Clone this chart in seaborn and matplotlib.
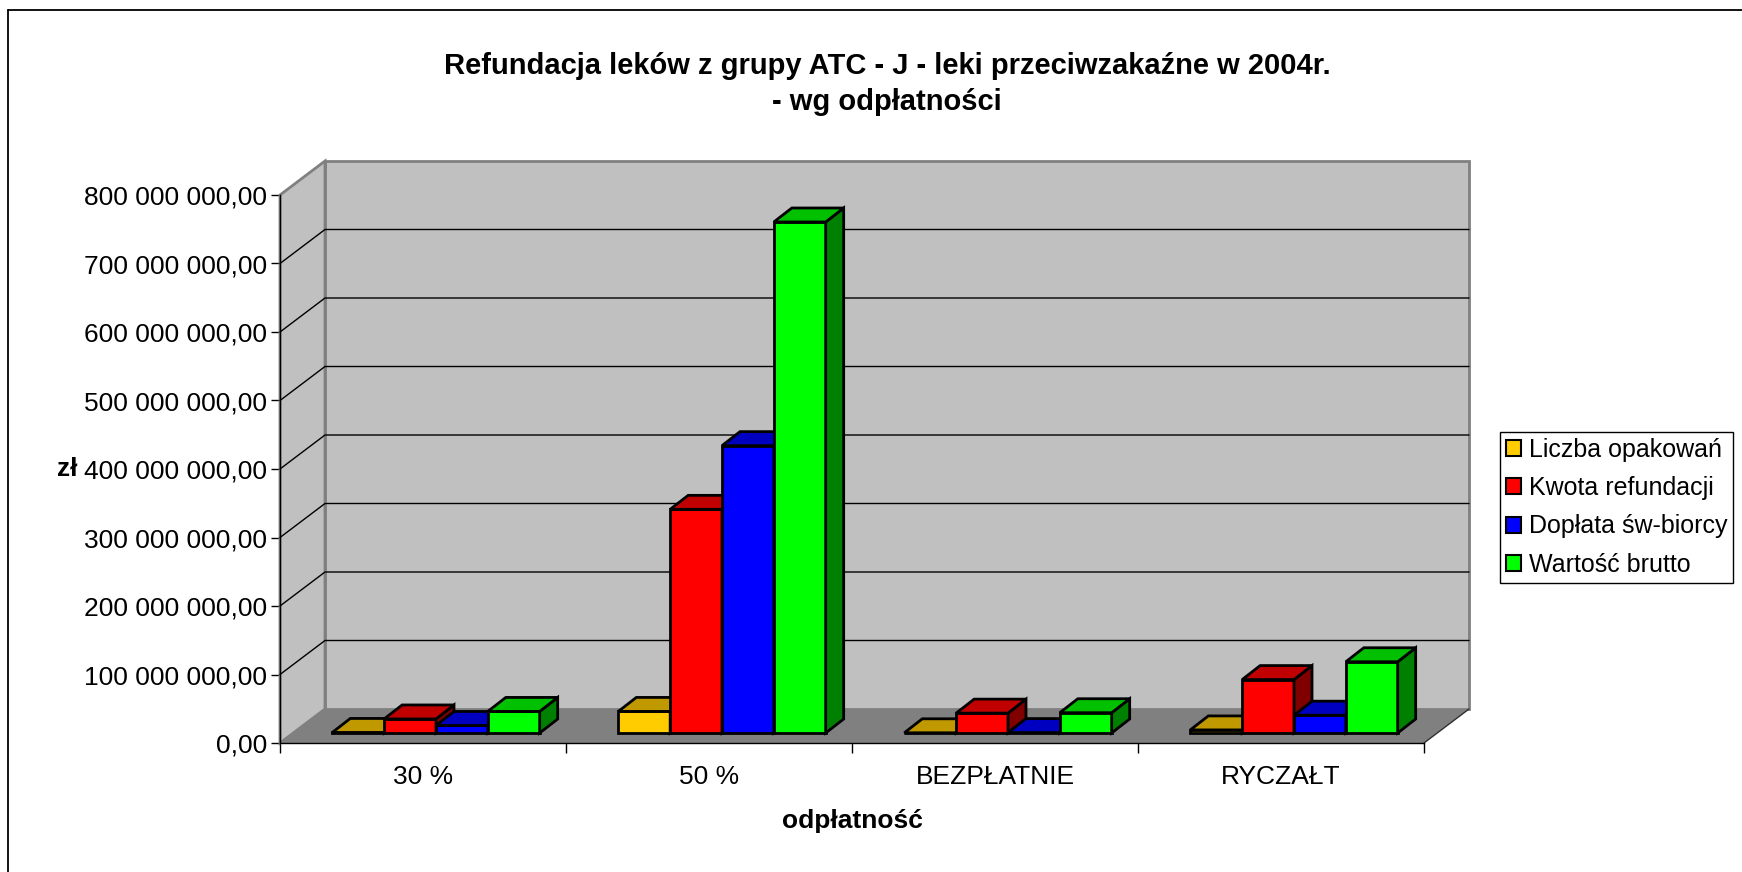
import numpy as np
import pandas as pd
import matplotlib
matplotlib.use("Agg")
import matplotlib.pyplot as plt
import seaborn as sns
from matplotlib.patches import Polygon, Patch
from matplotlib.lines import Line2D
from matplotlib.transforms import ScaledTranslation
from matplotlib.ticker import FuncFormatter

# --- data -------------------------------------------------------------
categories = ["30 %", "50 %", "BEZPŁATNIE", "RYCZAŁT"]
series = ["Liczba opakowań", "Kwota refundacji", "Dopłata św-biorcy", "Wartość brutto"]
liczba_opakowan = [0.8e6, 31.5e6, 0.3e6, 4.5e6]
kwota_refundacji = [20.5e6, 326.5e6, 29.0e6, 78.0e6]
doplata_swiadczeniobiorcy = [11.0e6, 419.5e6, 0.6e6, 26.0e6]
wartosc_brutto = [31.5e6, 746.0e6, 29.6e6, 104.0e6]
y_ticks = [0, 100e6, 200e6, 300e6, 400e6, 500e6, 600e6, 700e6, 800e6]

title = "Refundacja leków z grupy ATC - J - leki przeciwzakaźne w 2004r.\n- wg odpłatności"

front_colors = ["#FFCC00", "#FF0000", "#0000FF", "#00FF00"]
top_colors = ["#C09900", "#C00000", "#0000C0", "#00C000"]
side_colors = ["#806600", "#800000", "#000080", "#008000"]

df = pd.DataFrame({
    "odpłatność": categories * 4,
    "seria": np.repeat(series, len(categories)),
    "zł": liczba_opakowan + kwota_refundacji + doplata_swiadczeniobiorcy + wartosc_brutto,
})

# --- figure / axes ----------------------------------------------------
W, H, DPI = 1742, 872, 100
sns.set_style("white")
plt.rcParams["font.family"] = ["Liberation Sans", "DejaVu Sans"]
plt.rcParams.update({"text.color": "black", "axes.labelcolor": "black",
                     "xtick.color": "black", "ytick.color": "black"})

fig = plt.figure(figsize=(W / DPI, H / DPI), dpi=DPI)
fig.patch.set_facecolor("white")
AX_L, AX_R, AX_B, AX_T = 280, 1424, 743, 195
ax = fig.add_axes([AX_L / W, 1 - AX_B / H, (AX_R - AX_L) / W, (AX_B - AX_T) / H])
ax.set_facecolor("none")

sns.barplot(
    data=df, x="odpłatność", y="zł", hue="seria",
    order=categories, hue_order=series, palette=front_colors,
    width=0.725, gap=0, dodge=True, saturation=1, errorbar=None,
    edgecolor="black", linewidth=2, legend=False, ax=ax,
)

x0, x1 = -0.5, len(categories) - 0.5
ymax = y_ticks[-1]
ax.set_xlim(x0, x1)
ax.set_ylim(0, ymax)

# pixel -> data conversion for the oblique projection
sx = (x1 - x0) / (AX_R - AX_L)
sy = ymax / (AX_B - AX_T)
DX, DY = 45 * sx, 34 * sy          # depth of the floor / walls
BX, BY = 18 * sx, 14 * sy          # depth of each bar

# walls and floor
wall_c, floor_c, edge_c = "#C0C0C0", "#808080", "#808080"
ax.add_patch(Polygon([(x0 + DX, DY), (x1 + DX, DY), (x1 + DX, ymax + DY), (x0 + DX, ymax + DY)],
                     closed=True, fc=wall_c, ec=edge_c, lw=2, zorder=1, clip_on=False))
ax.add_patch(Polygon([(x0, 0), (x0 + DX, DY), (x0 + DX, ymax + DY), (x0, ymax)],
                     closed=True, fc=wall_c, ec=edge_c, lw=2, zorder=1, clip_on=False))
ax.add_patch(Polygon([(x0, 0), (x1, 0), (x1 + DX, DY), (x0 + DX, DY)],
                     closed=True, fc=floor_c, ec="none", zorder=1.2, clip_on=False))
ax.plot([x1, x1 + DX], [0, DY], color="#303030", lw=1, zorder=1.3, clip_on=False)

# gridlines running along side wall and back wall
for v in y_ticks[1:-1]:
    ax.plot([x0, x0 + DX, x1 + DX], [v, v + DY, v + DY], color="black", lw=1,
            zorder=1.5, clip_on=False, solid_joinstyle="miter")

# extrude the bars: front faces sit partway into the depth
shift = ax.transData + ScaledTranslation(13 / DPI, 10 / DPI, fig.dpi_scale_trans)
bars = [(rect, k) for k, cont in enumerate(ax.containers) for rect in cont]
bars.sort(key=lambda t: t[0].get_x())
for r, (rect, k) in enumerate(bars):
    x, w, h = rect.get_x(), rect.get_width(), rect.get_height()
    z = 10 + r
    rect.set_transform(shift)
    rect.set_zorder(z)
    rect.set_clip_on(False)
    side = Polygon([(x + w, 0), (x + w + BX, BY), (x + w + BX, h + BY), (x + w, h)], closed=True,
                   fc=side_colors[k], ec="black", lw=2, transform=shift, zorder=z, clip_on=False)
    top = Polygon([(x, h), (x + w, h), (x + w + BX, h + BY), (x + BX, h + BY)], closed=True,
                  fc=top_colors[k], ec="black", lw=2, transform=shift, zorder=z, clip_on=False)
    ax.add_patch(side)
    ax.add_patch(top)

# axes, ticks, labels
for s in ("top", "right"):
    ax.spines[s].set_visible(False)
for s in ("left", "bottom"):
    ax.spines[s].set_color("black")
    ax.spines[s].set_linewidth(1)
    ax.spines[s].set_zorder(2)

ax.set_yticks(y_ticks)
ax.yaxis.set_major_formatter(FuncFormatter(
    lambda v, p: f"{v:,.2f}".replace(",", " ").replace(".", ",")))
ax.tick_params(axis="y", left=True, direction="out", length=6.5, width=1,
               pad=3, labelsize=19, color="black")
ax.set_xticks(range(len(categories)))
ax.set_xticklabels(categories)
ax.set_xticks(np.arange(len(categories) + 1) - 0.5, minor=True)
ax.tick_params(axis="x", which="major", bottom=True, length=0, pad=16, labelsize=19)
ax.tick_params(axis="x", which="minor", bottom=True, direction="out", length=7,
               width=1, color="black")

ax.set_xlabel("odpłatność", fontsize=19, fontweight="bold", va="center")
ax.xaxis.set_label_coords(0.5, -(821 - AX_B) / (AX_B - AX_T))
ax.set_ylabel("zł", fontsize=19, fontweight="bold", rotation=0, va="center", ha="center")
ax.yaxis.set_label_coords((67 - AX_L) / (AX_R - AX_L), 0.5)

fig.text(887 / W, 1 - 84 / H, title, ha="center", va="center", multialignment="center",
         fontsize=21, fontweight="bold", linespacing=1.38)

handles = [Patch(facecolor=c, edgecolor="black", linewidth=1.5) for c in front_colors]
leg = fig.legend(handles, series, loc="upper left", bbox_to_anchor=(1500 / W, 1 - 432 / H),
                 bbox_transform=fig.transFigure, borderaxespad=0, fontsize=18,
                 handlelength=0.6, handleheight=0.6, handletextpad=0.35,
                 labelspacing=0.58, borderpad=0.22, fancybox=False, framealpha=1,
                 edgecolor="black")
leg.get_frame().set_linewidth(1)

# chart area border
fig.add_artist(Line2D([8 / W, 8 / W], [0, 1 - 10 / H], transform=fig.transFigure,
                      color="black", lw=1.3))
fig.add_artist(Line2D([8 / W, 1], [1 - 10 / H, 1 - 10 / H], transform=fig.transFigure,
                      color="black", lw=1.3))

fig.savefig("out.png", dpi=DPI)
